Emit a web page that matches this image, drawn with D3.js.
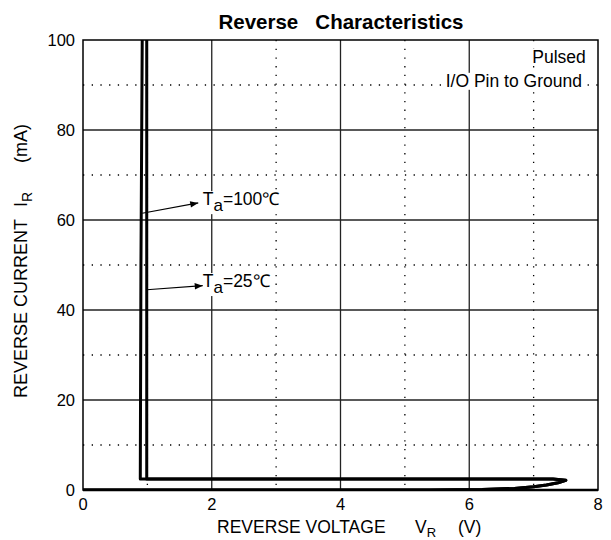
<!DOCTYPE html>
<html>
<head>
<meta charset="utf-8">
<script src="https://cdn.jsdelivr.net/npm/d3@7"></script>
<style>
  body { margin: 0; background: #fff; }
  text { font-family: "Liberation Sans", Arial, sans-serif; fill: #000; }
</style>
</head>
<body>
<div id="chart"></div>
<script>
var svgWidth = 611;
var svgHeight = 540;

var margin = { top: 40, right: 13, bottom: 50, left: 83 };
var width = svgWidth - margin.left - margin.right;
var height = svgHeight - margin.top - margin.bottom;

// tick values
var xMajor = [0, 2, 4, 6, 8];
var xMinor = [1, 3, 5, 7];
var yMajor = [0, 20, 40, 60, 80, 100];
var yMinor = [10, 30, 50, 70, 90];

// curves (V, mA)
var vrTa100 = [0, 5.4, 6.2, 6.7, 7.0, 7.2, 7.38, 7.5, 7.3, 6.0, 3.0, 0.89, 0.90, 0.92];
var irTa100 = [0, 0, 0.1, 0.35, 0.7, 1.1, 1.6, 2.15, 2.45, 2.45, 2.45, 2.45, 50, 100];
var vrTa25 = [0, 5.4, 6.2, 6.7, 7.0, 7.2, 7.38, 7.5, 7.3, 6.0, 3.0, 0.99, 0.99, 0.99];
var irTa25 = [0, 0, 0.1, 0.35, 0.7, 1.1, 1.6, 2.15, 2.45, 2.45, 2.45, 2.45, 50, 100];

var svg = d3.select("#chart")
  .append("svg")
  .attr("width", svgWidth)
  .attr("height", svgHeight);

var defs = svg.append("defs");
defs.append("clipPath").attr("id", "clip")
  .append("rect").attr("width", width).attr("height", height);
defs.append("marker")
  .attr("id", "arrow")
  .attr("viewBox", "0 0 10 10")
  .attr("refX", 10).attr("refY", 5)
  .attr("markerWidth", 11).attr("markerHeight", 8)
  .attr("markerUnits", "userSpaceOnUse")
  .attr("orient", "auto")
  .append("path").attr("d", "M0,1 L10,5 L0,9 Z").attr("fill", "#000");

var chartGroup = svg.append("g")
  .attr("transform", `translate(${margin.left}, ${margin.top})`);

var xScale = d3.scaleLinear().domain([0, 8]).range([0, width]);
var yScale = d3.scaleLinear().domain([0, 100]).range([height, 0]);

// dotted minor grid
chartGroup.selectAll(".xminor").data(xMinor).enter().append("line")
  .attr("x1", d => xScale(d)).attr("x2", d => xScale(d))
  .attr("y1", 0).attr("y2", height)
  .attr("stroke", "#000").attr("stroke-width", 1.3)
  .attr("stroke-dasharray", "1.3,7.4");
chartGroup.selectAll(".yminor").data(yMinor).enter().append("line")
  .attr("x1", 0).attr("x2", width)
  .attr("y1", d => yScale(d)).attr("y2", d => yScale(d))
  .attr("stroke", "#000").attr("stroke-width", 1.3)
  .attr("stroke-dasharray", "1.3,7.4");

// solid major grid
chartGroup.selectAll(".xmajor").data(xMajor.slice(1, -1)).enter().append("line")
  .attr("x1", d => xScale(d)).attr("x2", d => xScale(d))
  .attr("y1", 0).attr("y2", height)
  .attr("stroke", "#222").attr("stroke-width", 1.3);
chartGroup.selectAll(".ymajor").data(yMajor.slice(1, -1)).enter().append("line")
  .attr("x1", 0).attr("x2", width)
  .attr("y1", d => yScale(d)).attr("y2", d => yScale(d))
  .attr("stroke", "#222").attr("stroke-width", 1.3);

// labels with white background (cover grid)
function boxedLabel(g) {
  var bb = g.node().getBBox();
  g.insert("rect", ":first-child")
    .attr("x", bb.x - 1).attr("y", bb.y + 2)
    .attr("width", bb.width + 2).attr("height", bb.height - 3)
    .attr("fill", "#fff");
}

var noteGroup = chartGroup.append("g");
var pulsed = noteGroup.append("g");
pulsed.append("text")
  .attr("x", xScale(7.81)).attr("y", yScale(94.9))
  .attr("text-anchor", "end").attr("font-size", 17.5)
  .text("Pulsed");
boxedLabel(pulsed);
var pin = noteGroup.append("g");
pin.append("text")
  .attr("x", xScale(7.75)).attr("y", yScale(89.6))
  .attr("text-anchor", "end").attr("font-size", 17.5)
  .text("I/O Pin to Ground");
boxedLabel(pin);

function taLabel(v, i, temp) {
  var g = noteGroup.append("g");
  var t = g.append("text")
    .attr("x", xScale(v)).attr("y", yScale(i))
    .attr("font-size", 17.5);
  t.append("tspan").text("T");
  t.append("tspan").attr("dy", 6).attr("font-size", 17).text("a");
  t.append("tspan").attr("dy", -6).text("=" + temp + "\u2103");
  boxedLabel(g);
}
taLabel(1.86, 63.3, 100);
taLabel(1.86, 45.1, 25);

// arrows
var arrows = [
  { x1: 0.92, y1: 61.5, x2: 1.79, y2: 63.8 },
  { x1: 0.99, y1: 44.5, x2: 1.86, y2: 45.4 }
];
chartGroup.selectAll(".arrow").data(arrows).enter().append("line")
  .attr("x1", d => xScale(d.x1)).attr("y1", d => yScale(d.y1))
  .attr("x2", d => xScale(d.x2)).attr("y2", d => yScale(d.y2))
  .attr("stroke", "#000").attr("stroke-width", 1.2)
  .attr("marker-end", "url(#arrow)");

// curves
var line = d3.line()
  .x(d => xScale(d[0]))
  .y(d => yScale(d[1]));

var curves = [
  vrTa100.map((v, k) => [v, irTa100[k]]),
  vrTa25.map((v, k) => [v, irTa25[k]])
];
chartGroup.append("g").attr("clip-path", "url(#clip)")
  .selectAll("path").data(curves).enter().append("path")
  .attr("d", line)
  .attr("fill", "none")
  .attr("stroke", "#000")
  .attr("stroke-width", 3)
  .attr("stroke-linejoin", "round");

// frame
chartGroup.append("rect")
  .attr("width", width).attr("height", height)
  .attr("fill", "none").attr("stroke", "#000").attr("stroke-width", 1.5);
chartGroup.append("line")
  .attr("x1", 0).attr("x2", width).attr("y1", height).attr("y2", height)
  .attr("stroke", "#000").attr("stroke-width", 2.5);

// tick labels
chartGroup.selectAll(".xlab").data(xMajor).enter().append("text")
  .attr("x", d => xScale(d)).attr("y", height + 20)
  .attr("text-anchor", "middle").attr("font-size", 16.5)
  .text(d => d);
chartGroup.selectAll(".ylab").data(yMajor).enter().append("text")
  .attr("x", -8).attr("y", d => yScale(d) + 6)
  .attr("text-anchor", "end").attr("font-size", 16.5)
  .text(d => d);

// title
svg.append("text")
  .attr("x", 341).attr("y", 29)
  .attr("text-anchor", "middle")
  .attr("font-size", 20.5).attr("font-weight", "bold")
  .style("white-space", "pre")
  .text("Reverse   Characteristics");

// x label
var xl = svg.append("text")
  .attr("x", 217).attr("y", 533)
  .attr("font-size", 17.5);
xl.append("tspan").text("REVERSE VOLTAGE");
xl.append("tspan").attr("x", 415).text("V");
xl.append("tspan").attr("dy", 4).attr("font-size", 13).text("R");
xl.append("tspan").attr("x", 458).attr("dy", -4).text("(V)");

// y label
var yl = svg.append("text")
  .attr("transform", "translate(27, 398) rotate(-90)")
  .attr("font-size", 18);
yl.append("tspan").attr("x", 0).text("REVERSE CURRENT");
yl.append("tspan").attr("x", 191).text("I");
yl.append("tspan").attr("dy", 5).attr("font-size", 14).text("R");
yl.append("tspan").attr("x", 235).attr("dy", -5).text("(mA)");
</script>
</body>
</html>
